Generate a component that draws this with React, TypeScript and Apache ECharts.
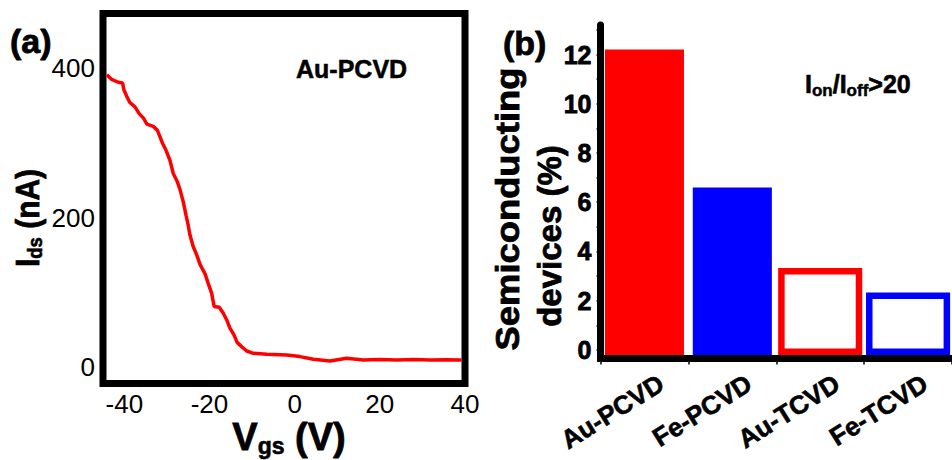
import { useEffect, useRef } from 'react';
import * as echarts from 'echarts';

// Panel (a): transfer curve
const vgs = [-44.1, -43.0, -41.4, -40.4, -40.1, -39.4, -38.7, -37.5, -36.5, -35.5, -34.7, -33.2, -32.25, -31.6, -31.0, -30.2, -29.3, -28.5, -27.55, -26.9, -26.15, -25.5, -25.0, -24.6, -23.8, -23.0, -22.2, -21.05, -20.3, -19.5, -18.9, -17.7, -16.75, -15.95, -15.2, -14.25, -13.5, -12.4, -11.25, -9.7, -6.55, -1.85, 1.25, 4.4, 8.3, 12.2, 16.1, 20.0, 24.0, 28.0, 31.8, 35.5, 39.2];
const ids = [391, 385, 381, 380, 371, 362, 354, 348, 339, 333, 325, 322, 317, 308, 299, 290, 277, 259, 248, 237, 221, 203, 190, 177, 161, 150, 137, 125, 112, 99, 81, 80, 72, 63, 52, 43, 33, 27, 21.5, 18.4, 17, 16, 14, 10.4, 8, 11.7, 9.4, 10, 9.4, 10, 9.4, 9.8, 9.4];
const vgsTicks = [-40, -20, 0, 20, 40];
const idsTicks = [0, 200, 400];

// Panel (b): bar chart
const categories = ['Au-PCVD', 'Fe-PCVD', 'Au-TCVD', 'Fe-TCVD'];
const percents = [12.2, 6.6, 3.2, 2.2];
const percentMinorTicks = [0, 1, 2, 3, 4, 5, 6, 7, 8, 9, 10, 11, 12, 13];
const percentLabelStep = 2;

const barColors = ['#ff0000', '#0000ff', '#ff0000', '#0000ff'];
const barFilled = [true, true, false, false];

const FONT = '"Liberation Sans", Arial, Helvetica, sans-serif';
const Y_MIN_B = -0.35;
const Y_MAX_B = 13.2;

export default function App() {
  const ref = useRef<HTMLDivElement>(null);
  useEffect(() => {
    if (!ref.current) return;
    const chart = echarts.init(ref.current, undefined, { renderer: 'svg' });

    const renderItem = (params: any, api: any) => {
      const i = api.value(0) as number;
      const v = api.value(1) as number;
      const top = api.coord([i, v]);
      const base = api.coord([i, Y_MIN_B]);
      const bw = api.size([1, 0])[0] * 0.9;
      const yb = base[1] - 3.5;
      if (barFilled[i]) {
        return {
          type: 'rect',
          shape: { x: top[0] - bw / 2, y: top[1], width: bw, height: yb - top[1] },
          style: { fill: barColors[i] },
        };
      }
      const lw = 6.5;
      const w = bw - 1.5;
      return {
        type: 'rect',
        shape: { x: top[0] - w / 2, y: top[1], width: w, height: yb - lw / 2 - top[1] },
        style: { fill: '#ffffff', stroke: barColors[i], lineWidth: lw },
      };
    };

    // grid 1 spans Y_MIN_B..Y_MAX_B over 333.5px; grid 2 (labels) spans 0..Y_MAX_B
    const gridBHeight = 333.5;
    const labelGridHeight = gridBHeight * Y_MAX_B / (Y_MAX_B - Y_MIN_B);

    const option: any = {
      animation: false,
      textStyle: { fontFamily: FONT },
      grid: [
        { left: 103, top: 13.5, width: 362, height: 370, show: true, borderColor: '#000', borderWidth: 7, backgroundColor: 'transparent' },
        { left: 600.5, top: 25, right: 0, height: gridBHeight },
        { left: 600.5, top: 25, right: 0, height: labelGridHeight },
      ],
      xAxis: [
        {
          gridIndex: 0, type: 'value', min: -45, max: 40,
          axisLine: { show: false, onZero: false }, axisTick: { show: false }, splitLine: { show: false },
          axisLabel: { customValues: vgsTicks, fontSize: 26, color: '#000', margin: 7, fontFamily: FONT },
        },
        {
          gridIndex: 1, type: 'category', data: categories,
          axisLine: { onZero: false, lineStyle: { color: '#000', width: 7, cap: 'square' } },
          axisTick: { show: true, length: 6, lineStyle: { color: '#000', width: 1.5 } },
          axisLabel: {
            rotate: 32, interval: 0, color: '#000', margin: 33, padding: [0, -20, 0, 0],
            formatter: '{c|{value}}',
            rich: { c: { fontSize: 26, fontWeight: 'bold', fontFamily: FONT, color: '#000', textBorderColor: '#000', textBorderWidth: 0.6 } },
          },
        },
        { gridIndex: 2, type: 'category', data: categories, show: false },
      ],
      yAxis: [
        {
          gridIndex: 0, type: 'value', min: -22, max: 473,
          axisLine: { show: false, onZero: false }, axisTick: { show: false }, splitLine: { show: false },
          axisLabel: { customValues: idsTicks, fontSize: 26, color: '#000', margin: 8, fontFamily: FONT },
        },
        {
          gridIndex: 1, type: 'value', min: Y_MIN_B, max: Y_MAX_B,
          axisLine: { show: true, onZero: false, lineStyle: { color: '#000', width: 7 } },
          axisTick: { show: true, customValues: percentMinorTicks, length: 4, lineStyle: { color: '#000', width: 1.5 } },
          splitLine: { show: false },
          axisLabel: { show: false },
        },
        {
          gridIndex: 2, type: 'value', min: 0, max: Y_MAX_B, interval: percentLabelStep,
          axisLine: { show: false, onZero: false }, axisTick: { show: false }, splitLine: { show: false },
          axisLabel: {
            color: '#000', margin: 9, showMaxLabel: false,
            formatter: '{n|{value}}',
            rich: { n: { fontSize: 25, fontWeight: 'bold', fontFamily: FONT, color: '#000', textBorderColor: '#000', textBorderWidth: 0.8 } },
          },
        },
      ],
      series: [
        {
          type: 'line', xAxisIndex: 0, yAxisIndex: 0,
          data: vgs.map((v, i) => [v, ids[i]]),
          showSymbol: false, symbol: 'none',
          lineStyle: { color: '#ff0000', width: 3.5 },
          z: 3,
        },
        {
          type: 'custom', xAxisIndex: 1, yAxisIndex: 1,
          data: percents.map((v, i) => [i, v]),
          encode: { x: 0, y: 1 },
          renderItem,
          z: 3,
        },
      ],
      graphic: [
        { type: 'text', x: 10, y: 41, style: { text: '(a)', font: `bold 34px ${FONT}`, fill: '#000', stroke: '#000', lineWidth: 0.8, align: 'left', verticalAlign: 'middle' } },
        { type: 'text', x: 503, y: 42.5, style: { text: '(b)', font: `bold 34px ${FONT}`, fill: '#000', stroke: '#000', lineWidth: 0.8, align: 'left', verticalAlign: 'middle' } },
        { type: 'text', x: 296, y: 69, style: { text: 'Au-PCVD', font: `bold 25px ${FONT}`, fill: '#000', stroke: '#000', lineWidth: 0.5, align: 'left', verticalAlign: 'middle' } },
        {
          type: 'text', x: 805, y: 84,
          style: {
            text: '{a|I}{b|on}{a|/I}{b|off}{a|>20}', align: 'left', verticalAlign: 'middle', fill: '#000',
            rich: {
              a: { fontSize: 25, fontWeight: 'bold', fontFamily: FONT, fill: '#000', lineHeight: 29, stroke: '#000', lineWidth: 0.6 },
              b: { fontSize: 17, fontWeight: 'bold', fontFamily: FONT, fill: '#000', padding: [13, 0, 0, 0], stroke: '#000', lineWidth: 0.5 },
            },
          },
        },
        {
          type: 'text', x: 27, y: 218, rotation: Math.PI / 2, scaleX: 0.88,
          style: {
            text: '{a|I}{b|ds}{a| (nA)}', align: 'center', verticalAlign: 'middle', fill: '#000',
            rich: {
              a: { fontSize: 34, fontWeight: 'bold', fontFamily: FONT, fill: '#000', lineHeight: 38, stroke: '#000', lineWidth: 0.8 },
              b: { fontSize: 21, fontWeight: 'bold', fontFamily: FONT, fill: '#000', padding: [16, 0, 0, 0], stroke: '#000', lineWidth: 0.6 },
            },
          },
        },
        {
          type: 'text', x: 289, y: 437,
          style: {
            text: '{a|V}{b|gs}{a| (V)}', align: 'center', verticalAlign: 'middle', fill: '#000',
            rich: {
              a: { fontSize: 38, fontWeight: 'bold', fontFamily: FONT, fill: '#000', lineHeight: 42, stroke: '#000', lineWidth: 0.8 },
              b: { fontSize: 23, fontWeight: 'bold', fontFamily: FONT, fill: '#000', padding: [18, 0, 0, 0], stroke: '#000', lineWidth: 0.6 },
            },
          },
        },
        { type: 'text', x: 507, y: 209, rotation: Math.PI / 2, scaleX: 1.07, style: { text: 'Semiconducting', font: `bold 34px ${FONT}`, fill: '#000', stroke: '#000', lineWidth: 0.8, align: 'center', verticalAlign: 'middle' } },
        { type: 'text', x: 549, y: 236, rotation: Math.PI / 2, style: { text: 'devices (%)', font: `bold 33px ${FONT}`, fill: '#000', stroke: '#000', lineWidth: 0.8, align: 'center', verticalAlign: 'middle' } },
      ],
    };
    chart.setOption(option);
    return () => chart.dispose();
  }, []);
  return <div ref={ref} style={{ width: 952, height: 460, position: 'absolute', left: 0, top: 0, background: '#fff' }} />;
}
